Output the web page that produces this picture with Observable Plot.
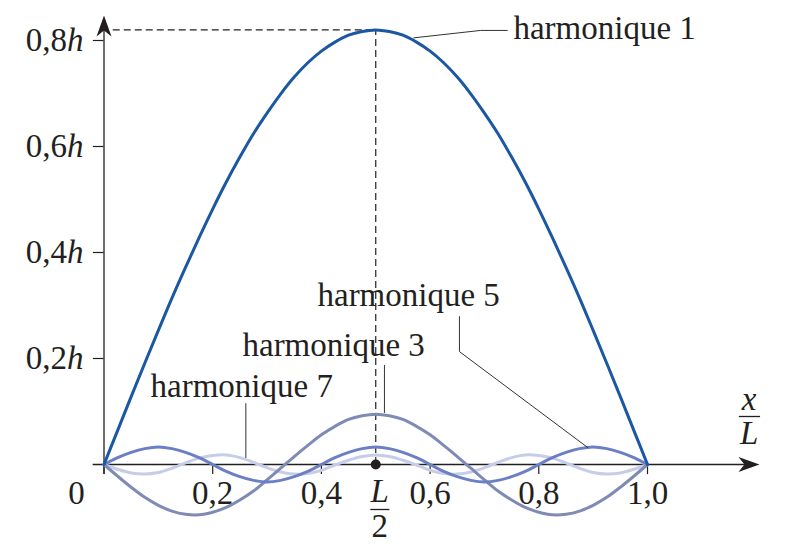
<!DOCTYPE html>
<html><head><meta charset="utf-8">
<script src="https://cdn.jsdelivr.net/npm/d3@7"></script>
<script src="https://cdn.jsdelivr.net/npm/@observablehq/plot@0.6"></script>
<style>body{margin:0;background:#fff} svg{display:block;background:#fff}</style>
</head><body><div id="chart"></div>
<script>
// x/L sample positions
const xs = [0,0.025,0.05,0.075,0.1,0.125,0.15,0.175,0.2,0.225,0.25,0.275,0.3,0.325,0.35,0.375,0.4,0.425,0.45,0.475,0.5,
            0.525,0.55,0.575,0.6,0.625,0.65,0.675,0.7,0.725,0.75,0.775,0.8,0.825,0.85,0.875,0.9,0.925,0.95,0.975,1];
// harmonic amplitudes (in units of h)
const h1 = [0,0.064,0.128,0.191,0.253,0.314,0.372,0.428,0.482,0.533,0.580,0.624,0.663,0.699,0.731,0.758,0.780,0.797,0.810,0.817,0.820,
            0.817,0.810,0.797,0.780,0.758,0.731,0.699,0.663,0.624,0.580,0.533,0.482,0.428,0.372,0.314,0.253,0.191,0.128,0.064,0];
const h3 = [0,-0.022,-0.043,-0.062,-0.077,-0.088,-0.094,-0.095,-0.090,-0.081,-0.067,-0.050,-0.029,-0.007,0.015,0.036,0.056,0.072,0.085,0.092,0.095,
            0.092,0.085,0.072,0.056,0.036,0.015,-0.007,-0.029,-0.050,-0.067,-0.081,-0.090,-0.095,-0.094,-0.088,-0.077,-0.062,-0.043,-0.022,0];
const h5 = [0,0.013,0.023,0.030,0.033,0.030,0.023,0.013,0,-0.013,-0.023,-0.030,-0.033,-0.030,-0.023,-0.013,0,0.013,0.023,0.030,0.033,
            0.030,0.023,0.013,0,-0.013,-0.023,-0.030,-0.033,-0.030,-0.023,-0.013,0,0.013,0.023,0.030,0.033,0.030,0.023,0.013,0];
const h7 = [0,-0.009,-0.016,-0.018,-0.015,-0.007,0.003,0.012,0.017,0.018,0.013,0.004,-0.006,-0.014,-0.018,-0.017,-0.011,-0.001,0.008,0.015,0.018,
            0.015,0.008,-0.001,-0.011,-0.017,-0.018,-0.014,-0.006,0.004,0.013,0.018,0.017,0.012,0.003,-0.007,-0.015,-0.018,-0.016,-0.009,0];

const xTicks = [0.2,0.4,0.6,0.8,1.0];
const xTickLabels = ["0,2","0,4","0,6","0,8","1,0"];
const yTicks = [0.2,0.4,0.6,0.8];
const yTickLabels = ["0,2","0,4","0,6","0,8"];
const peak = 0.82;
const half = 0.5;

const labelTexts = ["harmonique 1","harmonique 5","harmonique 3","harmonique 7"];
const labelX = [0.7534,0.3928,0.2548,0.0856];
const labelY = [0.8236,0.3198,0.2255,0.1481];
const leader1 = [[0.570,0.805],[0.693,0.819],[0.742,0.819]];
const leader5 = [[0.654,0.279],[0.654,0.213],[0.890,0.032]];
const leader3 = [[0.516,0.187],[0.516,0.098]];
const leader7 = [[0.261,0.115],[0.261,0.013]];

const colors = {h1:"#1b57a3", h3:"#7f8bb5", h5:"#6c7fc4", h7:"#c5cde9"};
const ink = "#231f20";
const FS = 33;
const font = "'Liberation Serif','Times New Roman',serif";

const arrowHead = {draw(ctx){ctx.moveTo(0,0);ctx.lineTo(-21,-7.5);ctx.lineTo(-15,0);ctx.lineTo(-21,7.5);ctx.closePath();}};

const curve = (vals, color) => Plot.line(xs, {x: d => d, y: (d,i) => vals[i], curve: "catmull-rom", stroke: color, strokeWidth: 3});
const leader = pts => Plot.line(pts, {x: d => d[0], y: d => d[1], stroke: "#333", strokeWidth: 1});

const chart = Plot.plot({
  width: 812, height: 550,
  style: {fontFamily: font, background: "#fff"},
  x: {domain: [0,1], range: [103.5,647], axis: null},
  y: {domain: [0,0.8], range: [464,40], axis: null},
  marks: [
    // dashed guides
    Plot.ruleY([peak], {x1: 0.017, x2: half, stroke: ink, strokeWidth: 1.2, strokeDasharray: "7,4"}),
    Plot.ruleX([half], {y1: 0, y2: peak, stroke: ink, strokeWidth: 1.2, strokeDasharray: "7,4"}),
    // axes
    Plot.ruleY([0], {x1: -0.02, x2: 1.19, stroke: ink, strokeWidth: 1.3}),
    Plot.ruleX([0], {y1: -0.019, y2: 0.83, stroke: ink, strokeWidth: 1.3}),
    Plot.dot([[1.206,0]], {x: d => d[0], y: d => d[1], symbol: arrowHead, fill: ink, stroke: null}),
    Plot.dot([[0,0.847]], {x: d => d[0], y: d => d[1], symbol: arrowHead, fill: ink, stroke: null, rotate: -90}),
    Plot.ruleX([0, ...xTicks], {x: d => d, y1: 0, y2: -0.019, stroke: ink, strokeWidth: 1.2}),
    Plot.ruleY(yTicks, {y: d => d, x1: -0.0195, x2: 0, stroke: ink, strokeWidth: 1.2}),
    // tick labels
    Plot.text(xTicks, {x: d => d, y: 0, text: (d,i) => xTickLabels[i], dy: 29, fontSize: FS, fill: ink}),
    Plot.text(["0"], {x: 0, y: 0, text: d => d, dx: -27.5, dy: 29, fontSize: FS, fill: ink}),
    Plot.text(yTicks, {x: 0, y: d => d, text: (d,i) => yTickLabels[i], textAnchor: "end", dx: -37, fontSize: FS, fill: ink}),
    Plot.text(yTicks, {x: 0, y: d => d, text: () => "h", textAnchor: "end", dx: -20.5, fontSize: FS, fontStyle: "italic", fill: ink}),
    // L/2 label
    Plot.text(["L"], {x: half, y: 0, text: d => d, dx: 4, dy: 27, fontSize: FS, fontStyle: "italic", fill: ink}),
    Plot.ruleY([0], {x1: half - 0.009, x2: half + 0.026, dy: 45, stroke: ink, strokeWidth: 1.3}),
    Plot.text(["2"], {x: half, y: 0, text: d => d, dx: 4, dy: 62, fontSize: FS, fill: ink}),
    // x/L label
    Plot.text(["x"], {x: 1.187, y: 0, text: d => d, dy: -65.5, fontSize: FS, fontStyle: "italic", fill: ink}),
    Plot.ruleY([0], {x1: 1.169, x2: 1.208, dy: -48, stroke: ink, strokeWidth: 1.3}),
    Plot.text(["L"], {x: 1.187, y: 0, text: d => d, dy: -31, fontSize: FS, fontStyle: "italic", fill: ink}),
    // curves
    curve(h7, colors.h7),
    curve(h3, colors.h3),
    curve(h5, colors.h5),
    curve(h1, colors.h1),
    Plot.dot([[half,0]], {x: d => d[0], y: d => d[1], r: 5, fill: ink, stroke: null}),
    // leaders & labels
    leader(leader1), leader(leader5), leader(leader3), leader(leader7),
    Plot.text(labelTexts, {x: (d,i) => labelX[i], y: (d,i) => labelY[i], text: d => d, textAnchor: "start", fontSize: FS, fill: ink})
  ]
});
document.getElementById("chart").append(chart);
</script>
</body></html>
